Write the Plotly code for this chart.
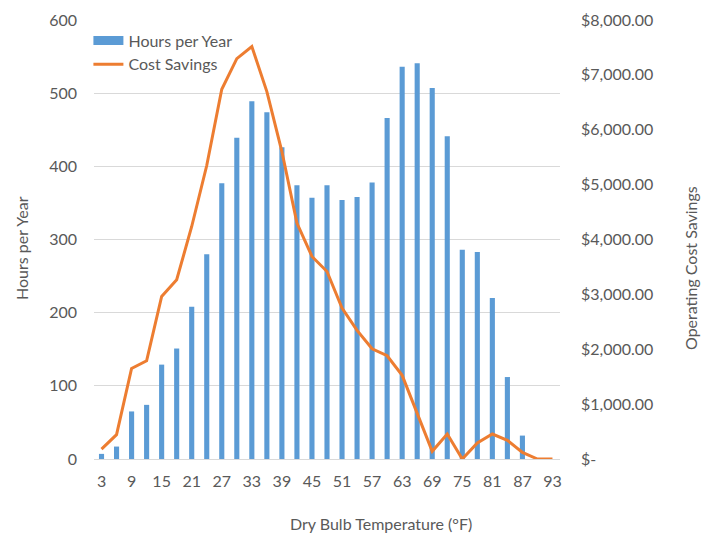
import plotly.graph_objects as go

temps = list(range(3, 94, 3))
hours = [7, 17, 65, 74, 129, 151, 208, 280, 377, 439, 489, 474, 426, 374, 357, 374,
         354, 358, 378, 466, 536, 541, 507, 441, 286, 283, 220, 112, 32, 0, 0]
savings = [180, 443, 1651, 1791, 2962, 3266, 4237, 5348, 6738, 7296, 7515, 6695, 5603,
           4298, 3691, 3417, 2750, 2343, 2009, 1882, 1524, 850, 140, 455, 0, 291, 455,
           340, 121, 0, 0]
x_ticks = list(range(3, 94, 6))
left_ticks = [0, 100, 200, 300, 400, 500, 600]
right_ticks = [0, 1000, 2000, 3000, 4000, 5000, 6000, 7000, 8000]
right_labels = ["$-", "$1,000.00", "$2,000.00", "$3,000.00", "$4,000.00",
                "$5,000.00", "$6,000.00", "$7,000.00", "$8,000.00"]

FONT = "Lato, 'Open Sans', sans-serif"
GRAY = "#595959"
BLUE = "#5B9BD5"
ORANGE = "#ED7D31"

fig = go.Figure()
# legend-only entry for the bars (wide rectangle swatch like the reference)
fig.add_trace(go.Scatter(x=[None], y=[None], mode="lines", name="Hours per Year",
                         line=dict(color=BLUE, width=9)))
fig.add_trace(go.Bar(x=temps, y=hours, name="Hours per Year", showlegend=False,
                     marker=dict(color=BLUE, line=dict(width=0))))
fig.add_trace(go.Scatter(x=temps, y=savings, name="Cost Savings", yaxis="y2",
                         mode="lines", line=dict(color=ORANGE, width=3)))

# page body has an 8px margin: figure is drawn offset by 8px
fig.update_layout(
    width=702, height=530,
    margin=dict(l=86, r=150, t=12, b=79),
    paper_bgcolor="white", plot_bgcolor="white",
    font=dict(family=FONT, color=GRAY, size=16),
    bargap=0.66,
    showlegend=True,
    legend=dict(x=-0.012, y=0.992, xanchor="left", yanchor="top",
                bgcolor="rgba(0,0,0,0)", font=dict(size=16, color=GRAY),
                tracegroupgap=0, itemwidth=30),
    xaxis=dict(range=[1.5, 94.5], tickmode="array", tickvals=x_ticks,
               ticktext=[str(t) for t in x_ticks], showgrid=False,
               showline=True, linecolor="#D9D9D9", linewidth=1, ticks="",
               ticklabelstandoff=8, tickfont=dict(size=16, color=GRAY),
               zeroline=False, automargin=False),
    yaxis=dict(range=[0, 600], tickmode="array", tickvals=left_ticks,
               showgrid=True, gridcolor="#D9D9D9", gridwidth=1, zeroline=False,
               ticks="", ticklabelstandoff=16, tickfont=dict(size=16, color=GRAY),
               automargin=False),
    yaxis2=dict(range=[0, 8000], overlaying="y", side="right", tickmode="array",
                tickvals=right_ticks, ticktext=right_labels, showgrid=False,
                zeroline=False, ticks="", ticklabelstandoff=20,
                tickfont=dict(size=16, color=GRAY), automargin=False),
    annotations=[
        dict(text="Hours per Year", xref="paper", yref="paper",
             x=(22 - 94) / 466, y=(459 - 248) / 439, textangle=-90, showarrow=False,
             font=dict(size=16, color=GRAY), xanchor="center", yanchor="middle"),
        dict(text="Operating Cost Savings", xref="paper", yref="paper",
             x=(690 - 94) / 466, y=(459 - 268) / 439, textangle=-90, showarrow=False,
             font=dict(size=16, color=GRAY), xanchor="center", yanchor="middle"),
        dict(text="Dry Bulb Temperature (°F)", xref="paper", yref="paper",
             x=(381 - 94) / 466, y=(459 - 523) / 439, showarrow=False,
             font=dict(size=16, color=GRAY), xanchor="center", yanchor="middle"),
    ],
)

fig.write_html("out.html")
